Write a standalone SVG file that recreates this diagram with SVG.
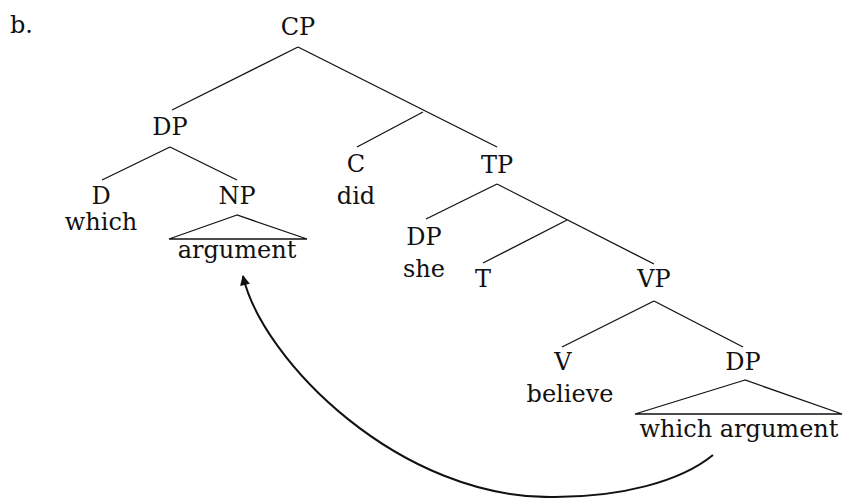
<svg xmlns="http://www.w3.org/2000/svg" width="843" height="498" viewBox="0 0 843 498">
<style>
text{font-family:"DejaVu Serif","Liberation Serif",serif;font-size:24px;fill:#111;text-anchor:middle}
.l{fill:none;stroke:#111;stroke-width:1.3}
.arc{fill:none;stroke:#111;stroke-width:2}
</style>
<defs>
<marker id="ah" viewBox="0 0 10 10" refX="9" refY="5" markerWidth="12" markerHeight="10" markerUnits="userSpaceOnUse" orient="auto">
<path d="M0,0 L10,5 L0,10 Z" fill="#111"/>
</marker>
</defs>
<rect width="843" height="498" fill="#fff"/>
<text x="10" y="33" style="text-anchor:start">b.</text>
<g id="CP"><text x="298" y="35">CP</text></g>
<g id="DP1"><text x="170" y="135">DP</text></g>
<g id="D"><text x="101" y="204">D</text><text x="101" y="230">which</text></g>
<g id="NP"><text x="237" y="204">NP</text><polygon class="l" points="237,215 169,239 307,239"/><text x="237" y="258">argument</text></g>
<g id="C"><text x="356" y="172">C</text><text x="356" y="204">did</text></g>
<g id="TP"><text x="497" y="173">TP</text></g>
<g id="DP2"><text x="424" y="245">DP</text><text x="424" y="277">she</text></g>
<g id="T"><text x="483" y="287">T</text></g>
<g id="VP"><text x="654" y="287">VP</text></g>
<g id="V"><text x="563" y="370">V</text><text x="570" y="402">believe</text></g>
<g id="DP3"><text x="743" y="370">DP</text><polygon class="l" points="745,380 635,414 842,414"/><text x="739" y="437">which argument</text></g>
<g id="connectors">
<path class="l" d="M298,47 L172,110"/>
<path class="l" d="M298,47 L497,147"/>
<path class="l" d="M423,112 L357,147"/>
<path class="l" d="M170,147 L102,180"/>
<path class="l" d="M170,147 L237,180"/>
<path class="l" d="M497,184 L426,219"/>
<path class="l" d="M497,184 L654,264"/>
<path class="l" d="M567,220 L483,263"/>
<path class="l" d="M654,301 L562,347"/>
<path class="l" d="M654,301 L743,347"/>
<path class="arc" marker-end="url(#ah)" d="M713,455 C680,482 620,497 555,497 C400,500 262,360 243,276"/>
</g>
</svg>
